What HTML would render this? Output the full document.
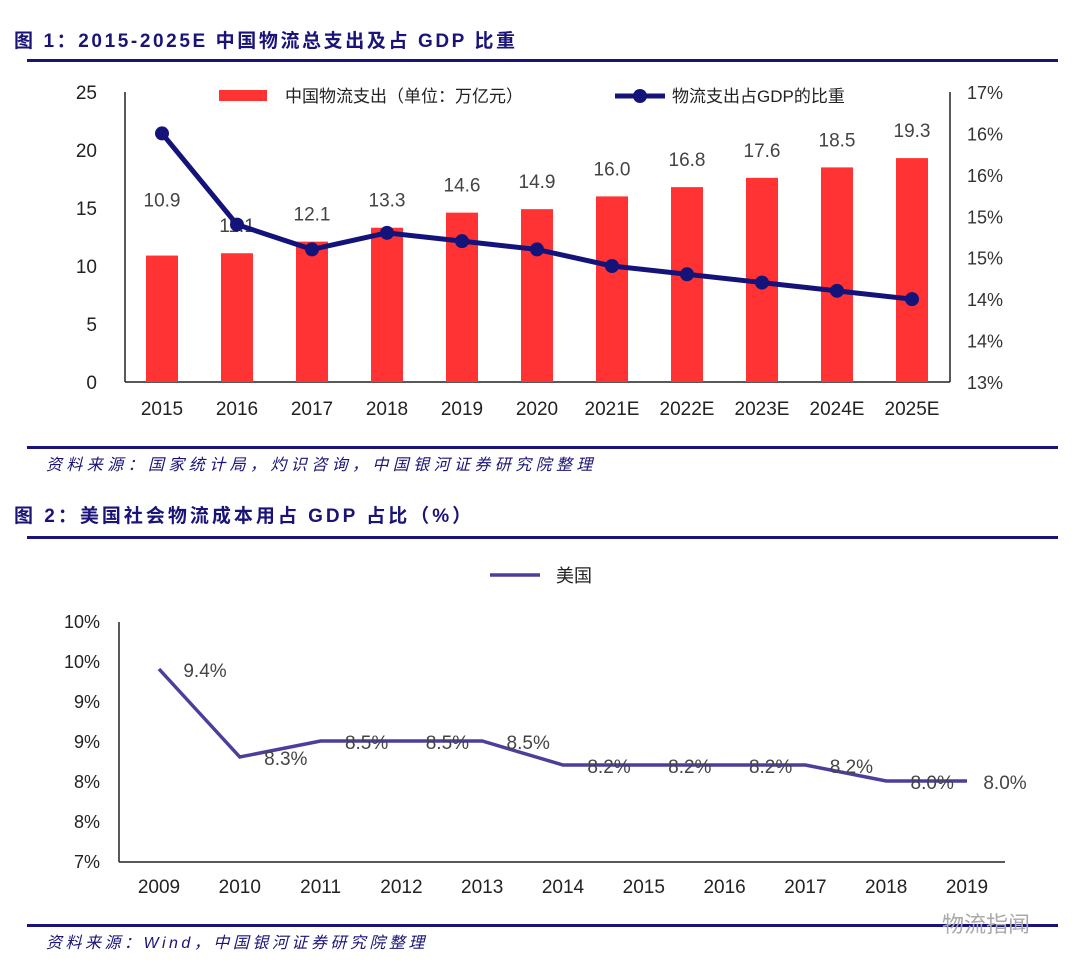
<!DOCTYPE html>
<html><head><meta charset="utf-8">
<style>
html,body{margin:0;padding:0;background:#fff;}
body{width:1080px;height:971px;overflow:hidden;position:relative;font-family:"Liberation Sans","Noto Sans CJK SC",sans-serif;}
svg{position:absolute;left:0;top:0;}
</style></head>
<body>
<svg id="s" width="1080" height="971">
  <text x="14" y="47" font-size="19" font-weight="bold" fill="#1a1478" letter-spacing="2.6">图 1：2015-2025E 中国物流总支出及占 GDP 比重</text>
  <rect x="27" y="59" width="1031" height="3" fill="#1a1478"/>
  <rect x="27" y="446" width="1031" height="3" fill="#1a1478"/>
  <text x="46" y="470" font-size="16" font-style="italic" fill="#1a1478" letter-spacing="4.4">资料来源：国家统计局，灼识咨询，中国银河证券研究院整理</text>
  <text x="14" y="522" font-size="19" font-weight="bold" fill="#1a1478" letter-spacing="3">图 2：美国社会物流成本用占 GDP 占比（%）</text>
  <rect x="27" y="536" width="1031" height="3" fill="#1a1478"/>
  <rect x="27" y="924" width="1031" height="3" fill="#1a1478"/>
  <text x="46" y="948" font-size="16" font-style="italic" fill="#1a1478" letter-spacing="3.5">资料来源：Wind，中国银河证券研究院整理</text>
  <text x="942" y="932" font-size="22" fill="#aaa">物流指闻</text>
  <g id="c1"></g>
  <g id="c2"></g>
</svg>
<script>
const cats1=["2015","2016","2017","2018","2019","2020","2021E","2022E","2023E","2024E","2025E"];
const spend=[10.9,11.1,12.1,13.3,14.6,14.9,16.0,16.8,17.6,18.5,19.3];
const share=[16.0,14.9,14.6,14.8,14.7,14.6,14.4,14.3,14.2,14.1,14.0];
const leftTicks=[0,5,10,15,20,25];
const rightTicks=[13,13.5,14,14.5,15,15.5,16,16.5];
const rightLabels=["13%","14%","14%","15%","15%","16%","16%","17%"];
const cats2=["2009","2010","2011","2012","2013","2014","2015","2016","2017","2018","2019"];
const usShare=[9.4,8.3,8.5,8.5,8.5,8.2,8.2,8.2,8.2,8.0,8.0];
const ticks2=[7,7.5,8,8.5,9,9.5,10];
const ticks2Labels=["7%","8%","8%","9%","9%","10%","10%"];

const NS="http://www.w3.org/2000/svg";
function mk(p,t,a,txt){const e=document.createElementNS(NS,t);for(const k in a)e.setAttribute(k,a[k]);if(txt!==undefined)e.textContent=txt;p.appendChild(e);return e;}

// chart 1
const g1=document.getElementById('c1');
const L1=125,R1=950,T1=92,B1=382;
const step1=(R1-L1)/cats1.length;
const x1=i=>L1+step1*(i+0.5)-0.5;
const yL=v=>B1-(v-0)/25*(B1-T1);
const yR=v=>B1-(v-13)/3.5*(B1-T1);
let e;
leftTicks.forEach(t=>{e=mk(g1,'text',{x:97,y:yL(t)+7,'font-size':19,'text-anchor':'end',fill:'#222'},t);

});
rightTicks.forEach((t,i)=>{e=mk(g1,'text',{x:967,y:yR(t)+7,'font-size':18,fill:'#333'},rightLabels[i]);

});
e=mk(g1,'line',{x1:L1,y1:T1,x2:L1,y2:B1,stroke:'#222','stroke-width':1.5});


e=mk(g1,'line',{x1:L1,y1:B1,x2:R1,y2:B1,stroke:'#222','stroke-width':1.5});


e=mk(g1,'line',{x1:R1,y1:T1,x2:R1,y2:B1,stroke:'#222','stroke-width':1.5});


spend.forEach((v,i)=>{
  e=mk(g1,'rect',{x:x1(i)-16,y:yL(v),width:32,height:B1-yL(v),fill:'#ff3333'});
  
  
  const off=(i===0)?56:28;
  e=mk(g1,'text',{x:x1(i),y:yL(v)-off+7,'font-size':19,'text-anchor':'middle',fill:'#444'},v.toFixed(1));
  
  
  e=mk(g1,'text',{x:x1(i),y:415,'font-size':19,'text-anchor':'middle',fill:'#222'},cats1[i]);
  
  
});
e=mk(g1,'polyline',{points:share.map((v,i)=>x1(i)+','+yR(v)).join(' '),fill:'none',stroke:'#14137a','stroke-width':5});


share.forEach((v,i)=>{e=mk(g1,'circle',{cx:x1(i),cy:yR(v),r:7,fill:'#14137a'});

});
e=mk(g1,'rect',{x:219,y:90,width:48,height:11,fill:'#ff3333'});


e=mk(g1,'text',{x:285,y:102,'font-size':17,fill:'#222'},'中国物流支出（单位：万亿元）');


e=mk(g1,'line',{x1:615,y1:96,x2:665,y2:96,stroke:'#14137a','stroke-width':5});


e=mk(g1,'circle',{cx:640,cy:96,r:7,fill:'#14137a'});


e=mk(g1,'text',{x:672,y:102,'font-size':17,fill:'#222'},'物流支出占GDP的比重');



// chart 2
const g2=document.getElementById('c2');
const L2=119,R2=1005,T2=622,B2=862;
const x2=i=>159+i*80.8;
const y2=v=>781-(v-8)*80;
ticks2.forEach((t,i)=>{e=mk(g2,'text',{x:100,y:y2(t)+7,'font-size':18,'text-anchor':'end',fill:'#222'},ticks2Labels[i]);

});
e=mk(g2,'line',{x1:L2,y1:T2,x2:L2,y2:B2,stroke:'#222','stroke-width':1.5});


e=mk(g2,'line',{x1:L2,y1:B2,x2:R2,y2:B2,stroke:'#222','stroke-width':1.5});


cats2.forEach((c,i)=>{e=mk(g2,'text',{x:x2(i),y:893,'font-size':19,'text-anchor':'middle',fill:'#222'},c);

});
e=mk(g2,'polyline',{points:usShare.map((v,i)=>x2(i)+','+y2(v)).join(' '),fill:'none',stroke:'#4b3f9b','stroke-width':3.5});


usShare.forEach((v,i)=>{e=mk(g2,'text',{x:x2(i)+(i===cats2.length-1?38:46),y:y2(v)+8,'font-size':19,'text-anchor':'middle',fill:'#444'},v.toFixed(1)+'%');

});
e=mk(g2,'line',{x1:490,y1:575,x2:540,y2:575,stroke:'#4b3f9b','stroke-width':3.5});


e=mk(g2,'text',{x:556,y:582,'font-size':18,fill:'#222'},'美国');


</script>
</body></html>
